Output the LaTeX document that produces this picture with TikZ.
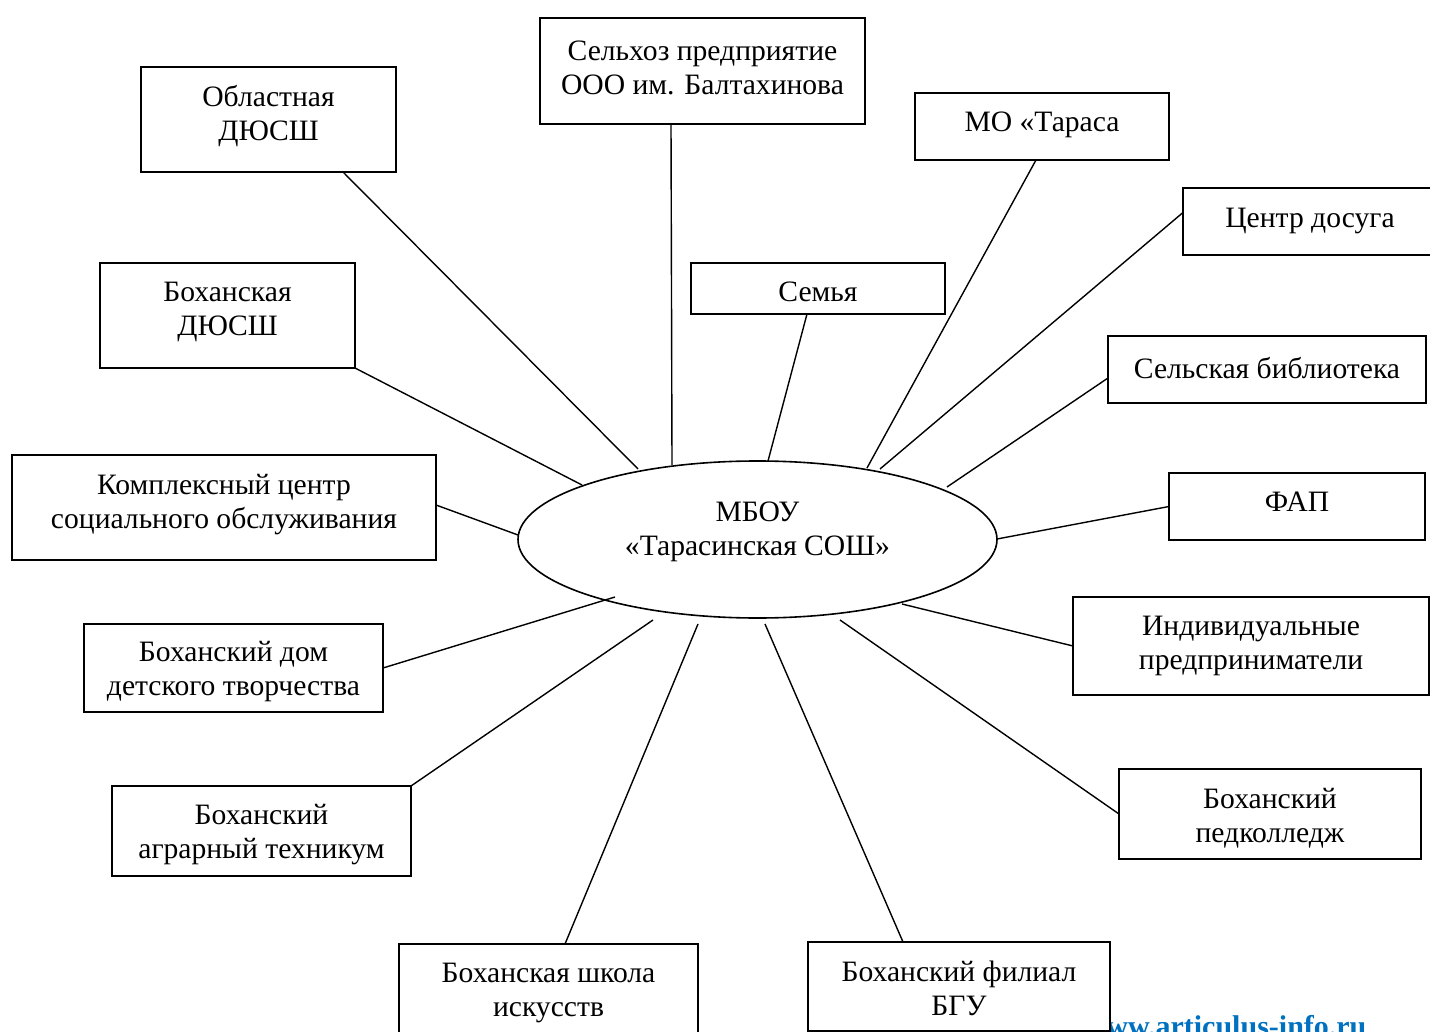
\documentclass[tikz,border=0pt]{standalone}
\usepackage{fontspec}
\setmainfont{Liberation Serif}
\usepackage{tikz}
\usetikzlibrary{shapes.geometric}
\definecolor{siteblue}{RGB}{0,112,192}
\def\partner(#1)(#2)(#3:#4:#5)#6{\node[box, minimum width=#3, minimum height=#4] (#1) at (#2) {};
	\node[txt, #5] (#1-t) at (#1.center) {#6};}

\begin{document}
\begin{tikzpicture}[x=0.5pt, y=-0.5pt,
	box/.style={draw, fill=white, line width=0.9pt, inner sep=0pt, outer sep=0pt},
	txt/.style={align=center, inner sep=0pt, font=\fontsize{14.8}{17}\selectfont},
	link/.style={line width=0.7pt},
	wmark/.style={inner sep=0pt, text=siteblue, font=\fontsize{15}{17}\selectfont\bfseries}]
		%%%%% START %%%%%
		\useasboundingbox (0,0) rectangle (1430,1032);
		\clip (0,0) rectangle (1430,1032);
		
		\node[wmark, anchor=base west] (site) at (1106,1036) {ww.articulus-info.ru};
		
		\node[draw, ellipse, line width=0.8pt, minimum width=239.5pt, minimum height=78.5pt, inner sep=0pt, outer sep=0pt] (sch) at (757.5,539.5) {};
		\node[txt, yshift=4pt] (sch-t) at (sch.center) {МБОУ\\«Тарасинская СОШ»};
		
		\partner(selhoz)(702.5,71)(162.5pt:53pt:yshift=1.5pt){Сельхоз предприятие\\ООО им. Балтахинова}
		\partner(obl)(268.5,119.5)(127.5pt:52.5pt:yshift=1.75pt){Областная\\ДЮСШ}
		\partner(mo)(1042,126.5)(127pt:33.5pt:yshift=0.75pt){МО «Тараса}
		\partner(dosug)(1310,221.5)(127pt:33.5pt:yshift=0.25pt){Центр досуга}
		\partner(semya)(818,288.5)(127pt:25.5pt:yshift=-1.5pt){Семья}
		\partner(bohdyush)(227.5,315.5)(127.5pt:52.5pt:yshift=1.75pt){Боханская\\ДЮСШ}
		\partner(bibl)(1267,369.5)(159pt:33.5pt:yshift=0.5pt){Сельская библиотека}
		\partner(kcso)(224,507.5)(212pt:52.5pt:yshift=1.25pt){Комплексный центр\\социального обслуживания}
		\partner(fap)(1297,506.5)(128pt:33.5pt:yshift=2.5pt){ФАП}
		\partner(ddt)(233.5,668)(149.5pt:44pt:yshift=-2pt){Боханский дом\\детского творчества}
		\partner(ip)(1251,646)(178pt:49pt:yshift=0.25pt){Индивидуальные\\предприниматели}
		\partner(agr)(261.5,831)(149.5pt:45pt:yshift=-2pt){Боханский\\аграрный техникум}
		\partner(ped)(1270,814)(151pt:45pt:yshift=-2pt){Боханский\\педколледж}
		\partner(shkola)(548.5,989)(149.5pt:45pt:yshift=-2pt){Боханская школа\\искусств}
		\partner(bgu)(959,986.5)(151pt:44.5pt:yshift=-1pt){Боханский филиал\\БГУ}
		
		% lines to the school
		\draw[link] ([shift={(-31.5,0)}]selhoz.south) -- ([shift={(-85.5,-74.5)}]sch.center);
		\draw[link] ([shift={(74.5,0)}]obl.south) -- ([shift={(-119.5,-70.5)}]sch.center);
		\draw[link] ([shift={(-6,0)}]mo.south) -- ([shift={(109.5,-71.5)}]sch.center);
		\draw[link] ([shift={(0,-9)}]dosug.west) -- ([shift={(122.5,-70.5)}]sch.center);
		\draw[link] ([shift={(-11,0)}]semya.south) -- ([shift={(10.5,-78.5)}]sch.center);
		\draw[link] (bohdyush.south east) -- ([shift={(-175.5,-54.5)}]sch.center);
		\draw[link] ([shift={(0,8.5)}]bibl.west) -- ([shift={(189.5,-52.5)}]sch.center);
		\draw[link] ([shift={(0,-2.5)}]kcso.east) -- ([shift={(-239.5,-4.5)}]sch.center);
		\draw[link] (fap.west) -- ([shift={(239.5,-0.5)}]sch.center);
		\draw[link] (ddt.east) -- ([shift={(-142.5,57.5)}]sch.center);
		\draw[link] (ip.west) -- ([shift={(144.5,64.5)}]sch.center);
		\draw[link] (agr.north east) -- ([shift={(-104.5,80.5)}]sch.center);
		\draw[link] (ped.west) -- ([shift={(82.5,80.5)}]sch.center);
		\draw[link] ([shift={(16.5,0)}]shkola.north) -- ([shift={(-59.5,84.5)}]sch.center);
		\draw[link] ([shift={(-56,0)}]bgu.north) -- ([shift={(7.5,84.5)}]sch.center);
		
		%%%%% END %%%%%
	\end{tikzpicture}
\end{document}
